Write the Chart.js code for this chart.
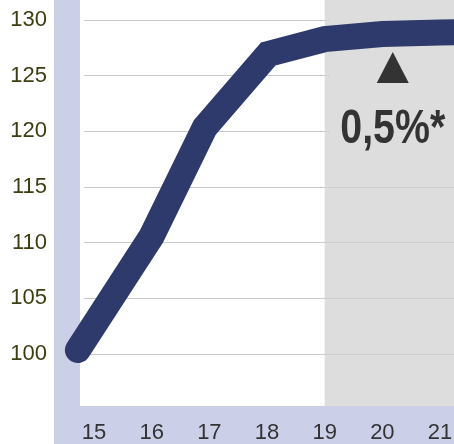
<!DOCTYPE html>
<html>
<head>
<meta charset="utf-8">
<script src="https://cdn.jsdelivr.net/npm/chart.js@4/dist/chart.umd.min.js"></script>
<style>
html,body{margin:0;padding:0;background:#fff;}
#wrap{width:454px;height:444px;position:relative;}
</style>
</head>
<body>
<div id="wrap"><canvas id="c" width="454" height="444"></canvas></div>
<script>
// Data
const xPositions = [14.72, 16, 16.92, 18.02, 19, 20, 21, 21.5];
const values     = [100.36, 110.6, 120.35, 126.95, 128.29, 128.74, 128.87, 128.92];
const xTicks = [15, 16, 17, 18, 19, 20, 21];
const yTicks = [100, 105, 110, 115, 120, 125, 130];
const forecastStart = 19;
const annotationText = "0,5%*";
const annotationX = 20.18;

const bgPlugin = {
  id: 'bands',
  beforeDraw(chart) {
    const {ctx, chartArea: a} = chart;
    ctx.save();
    ctx.fillStyle = '#cbd0e8';
    ctx.fillRect(a.left, a.bottom, a.right - a.left, chart.height - a.bottom);
    ctx.restore();
  },
  beforeDatasetsDraw(chart) {
    const {ctx, chartArea: a, scales} = chart;
    const gx = scales.x.getPixelForValue(forecastStart);
    ctx.save();
    ctx.fillStyle = 'rgba(210,210,210,0.75)';
    ctx.fillRect(gx, a.top, a.right - gx, a.bottom - a.top);
    ctx.fillStyle = '#dddddd';
    ctx.fillRect(gx + 5, a.top, a.right - gx - 5, 165);
    ctx.fillStyle = '#cbd0e8';
    ctx.fillRect(a.left, a.top, 26, a.bottom - a.top);
    ctx.fillStyle = '#ffffff';
    ctx.fillRect(a.left + 26, a.top, 4, a.bottom - a.top);
    ctx.restore();
  },
  afterDatasetsDraw(chart) {
    const {ctx, scales} = chart;
    const cx = scales.x.getPixelForValue(annotationX);
    ctx.save();
    ctx.fillStyle = '#333333';
    ctx.beginPath();
    ctx.moveTo(cx, 52);
    ctx.lineTo(cx + 16, 83);
    ctx.lineTo(cx - 16, 83);
    ctx.closePath();
    ctx.fill();
    ctx.font = 'bold 48px "Liberation Sans Narrow", "Arial Narrow", "Liberation Sans", sans-serif';
    ctx.textAlign = 'center';
    ctx.textBaseline = 'alphabetic';
    const w = ctx.measureText(annotationText).width;
    const sx = 105 / w;
    ctx.translate(cx, 143);
    ctx.scale(sx, 1);
    ctx.fillText(annotationText, 0, 0);
    ctx.restore();
  }
};

function noPad(s) {
  s.paddingTop = 0; s.paddingBottom = 0; s.paddingLeft = 0; s.paddingRight = 0;
}

new Chart(document.getElementById('c'), {
  type: 'line',
  data: {
    datasets: [{
      data: xPositions.map((x, i) => ({x: x, y: values[i]})),
      borderColor: '#2e3a6b',
      borderWidth: 26,
      borderCapStyle: 'round',
      borderJoinStyle: 'miter',
      pointRadius: 0,
      tension: 0,
      fill: false
    }]
  },
  options: {
    responsive: false,
    animation: false,
    layout: {padding: 0},
    plugins: {legend: {display: false}, tooltip: {enabled: false}},
    scales: {
      x: {
        type: 'linear',
        min: 14.306,
        max: 21.242,
        afterBuildTicks: s => { s.ticks = xTicks.map(v => ({value: v})); },
        afterFit: s => { s.height = 38; noPad(s); },
        grid: {display: false, drawTicks: false},
        border: {display: false},
        ticks: {
          padding: 14,
          color: '#333333',
          font: {family: '"Liberation Sans", Arial, sans-serif', size: 22},
          callback: v => String(v),
          maxRotation: 0,
          autoSkip: false
        }
      },
      y: {
        type: 'linear',
        min: 95.33,
        max: 131.8,
        afterBuildTicks: s => { s.ticks = yTicks.map(v => ({value: v})); },
        afterFit: s => { s.width = 54; noPad(s); },
        grid: {color: '#c8c8c8', lineWidth: 1, drawTicks: false},
        border: {display: false},
        ticks: {
          padding: 7,
          color: '#3d3d12',
          font: {family: '"Liberation Sans", Arial, sans-serif', size: 22},
          callback: v => String(v)
        }
      }
    }
  },
  plugins: [bgPlugin]
});
</script>
</body>
</html>
